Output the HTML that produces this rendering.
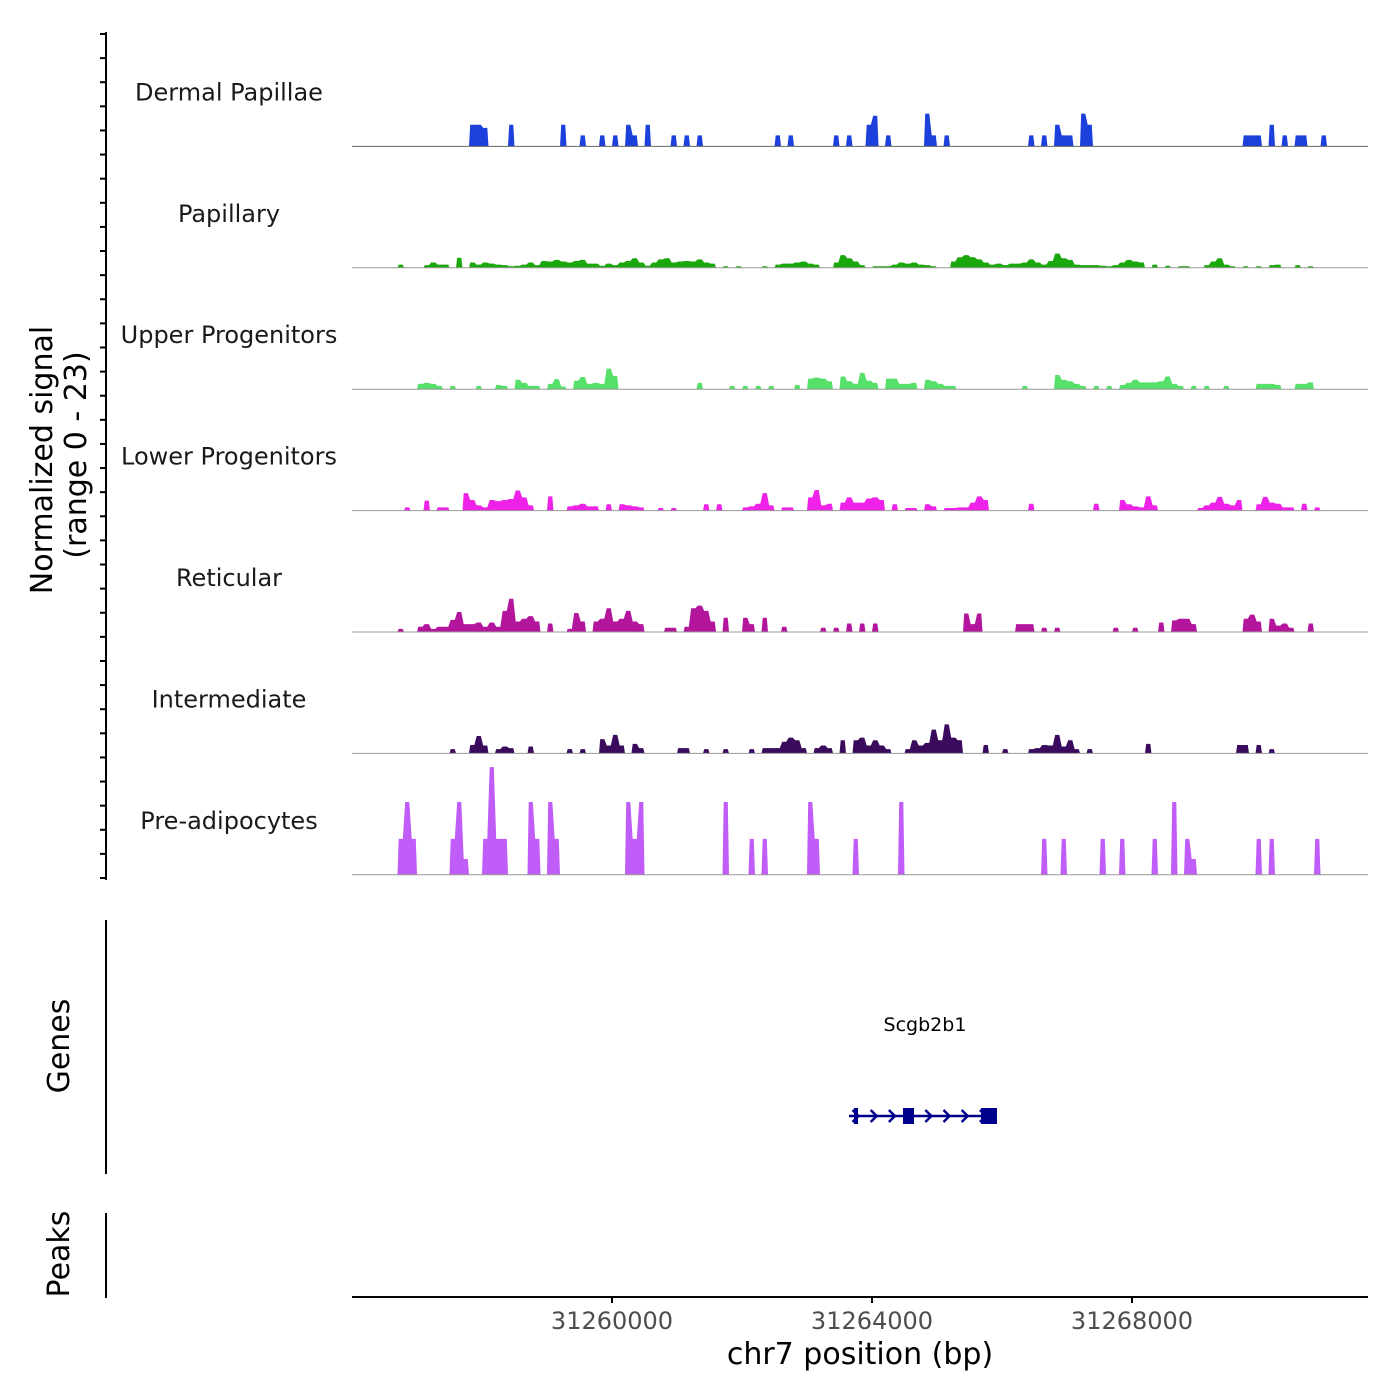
<!DOCTYPE html>
<html><head><meta charset="utf-8"><style>
body{margin:0;background:#fff}
svg{display:block;font-family:"DejaVu Sans","Liberation Sans",sans-serif}
</style></head><body>
<svg id="chart" width="1400" height="1400" viewBox="0 0 1400 1400" xmlns="http://www.w3.org/2000/svg">
<rect width="1400" height="1400" fill="#fff"/>
<g id="tracks"></g>
<g id="axes"></g>
</svg>
<script>
const startBp = 31256000, binSize = 100;
const xTicks = [31260000, 31264000, 31268000];
const trackNames = ["Dermal Papillae","Papillary","Upper Progenitors","Lower Progenitors","Reticular","Intermediate","Pre-adipocytes"];
const trackColors = ["#1b40dc","#1aa80c","#56e06a","#ee22e8","#b3169c","#3a0b5c","#c05cf8"];
// sparse binned signal: bin index (100bp bins from startBp) and values (normalized, 0-23)
const dpBins = [18,19,20,24,32,35,38,40,42,43,45,49,51,53,65,67,74,76,79,80,82,88,89,91,104,106,108,109,110,112,113,137,138,139,141,143,145,146,149];
const dpVals = [4.1,4.1,3.5,4.1,4.1,2.1,2.1,2.1,4.1,2.1,4.1,2.1,2.1,2.1,2.1,2.1,2.1,2.1,4.1,5.8,2.1,6.2,2.1,2.1,2.1,2.1,4.1,2.1,2.1,6.2,4.1,2.1,2.1,2.1,4.1,2.1,2.1,2.1,2.1];
const papBins = [7,11,12,13,14,16,18,19,20,21,22,23,24,25,26,27,28,29,30,31,32,33,34,35,36,37,38,39,40,41,42,43,44,45,46,47,48,49,50,51,52,53,54,55,57,59,63,65,66,67,68,69,70,71,74,75,76,77,78,80,81,82,83,84,85,86,87,88,89,92,93,94,95,96,97,98,99,100,101,102,103,104,105,106,107,108,109,110,111,112,113,114,115,116,117,118,119,120,121,123,125,127,128,131,132,133,134,135,137,139,141,142,145,147];
const papVals = [0.6,0.5,1.0,0.6,0.6,1.9,1.0,0.6,1.0,0.8,0.6,0.5,0.3,0.4,0.6,1.0,0.5,1.3,1.2,1.5,1.2,1.0,1.3,1.5,0.8,0.8,0.4,0.8,0.5,1.0,1.3,1.8,1.0,0.4,1.0,1.6,1.8,1.0,1.2,1.3,1.2,1.6,1.0,0.8,0.3,0.3,0.3,0.6,0.8,0.8,1.0,1.2,0.8,0.6,1.0,2.4,1.8,1.2,0.5,0.3,0.3,0.3,0.6,1.0,0.8,1.0,0.6,0.5,0.3,1.2,2.0,2.4,2.0,1.6,1.0,0.6,0.8,0.5,0.8,0.8,1.0,1.6,1.0,0.6,1.3,2.7,1.8,1.5,0.6,0.5,0.5,0.5,0.4,0.3,0.5,1.0,1.5,1.2,1.0,0.6,0.4,0.3,0.3,0.5,1.2,1.8,0.6,0.3,0.3,0.3,0.5,0.6,0.5,0.3];
const upBins = [10,11,12,13,15,19,22,23,25,26,27,28,30,31,32,34,35,36,37,38,39,40,53,58,60,62,64,68,70,71,72,73,75,76,77,78,79,80,82,83,84,85,86,88,89,90,91,92,103,108,109,110,111,112,114,116,118,119,120,121,122,123,124,125,126,127,129,131,134,139,140,141,142,145,146,147];
const upVals = [1.0,1.2,1.0,0.6,0.6,0.6,0.8,0.6,1.8,1.2,0.6,0.6,1.0,1.9,0.5,1.6,2.3,1.0,1.2,1.0,3.9,2.5,1.2,0.6,0.6,0.6,0.6,0.8,2.0,2.2,2.0,1.5,2.4,1.5,1.0,3.1,1.6,1.2,2.0,2.0,1.0,1.0,1.2,1.8,1.5,1.0,0.6,0.6,0.6,2.7,1.8,1.5,1.0,0.6,0.6,0.6,0.8,1.2,1.8,1.3,1.3,1.3,1.5,2.4,1.0,0.6,0.6,0.6,0.6,1.0,1.0,1.0,0.8,1.0,1.0,1.3];
const lowBins = [8,11,13,14,17,18,19,20,21,22,23,24,25,26,27,30,33,34,35,36,37,39,41,42,43,44,47,49,54,56,60,61,62,63,64,66,67,70,71,72,73,75,76,77,78,79,80,81,83,85,86,88,89,91,92,93,94,95,96,97,104,114,118,119,120,121,122,123,130,131,132,133,134,135,136,139,140,141,142,143,144,146,148];
const lowVals = [0.6,1.9,0.6,0.6,3.3,2.0,1.0,0.6,2.0,1.8,2.0,2.2,3.8,2.5,1.0,2.7,0.8,1.0,1.3,0.8,0.8,1.2,1.2,1.0,0.8,0.6,0.5,0.5,1.2,1.2,0.6,0.8,1.3,3.3,1.0,0.6,0.6,2.5,3.9,1.0,1.3,1.5,2.5,1.5,1.5,2.3,2.5,2.0,1.2,0.5,0.5,1.2,0.8,0.5,0.5,0.6,0.6,1.5,2.7,2.0,1.3,1.3,2.0,1.2,0.8,0.6,2.7,1.0,0.5,1.0,1.5,2.6,1.3,1.0,2.0,1.2,2.6,1.5,1.3,0.6,0.6,1.3,0.6];
const retBins = [7,10,11,12,13,14,15,16,17,18,19,20,21,22,23,24,25,26,27,28,30,33,34,35,37,38,39,40,41,42,43,44,48,49,51,52,53,54,55,57,60,61,63,66,72,74,76,78,80,94,95,96,102,103,104,106,108,117,120,124,126,127,128,129,137,138,139,141,142,143,144,147];
const retVals = [0.6,1.0,1.5,0.6,1.0,1.0,2.3,3.8,1.5,1.5,1.8,1.0,1.8,1.0,4.0,6.3,2.0,2.5,3.0,2.0,1.6,0.6,3.6,2.0,2.0,2.5,4.5,2.0,2.5,4.0,2.0,1.5,0.8,0.8,1.0,4.5,5.0,4.0,2.0,2.7,2.7,1.5,2.7,1.0,0.8,0.8,1.6,1.6,1.6,3.5,1.5,3.5,1.5,1.5,1.5,0.8,0.8,0.8,0.8,1.8,2.2,2.5,2.5,1.5,2.5,3.3,2.0,2.5,1.2,1.6,0.8,1.6];
const intBins = [15,18,19,20,22,23,24,27,33,35,38,39,40,41,43,44,50,51,54,57,61,63,64,65,66,67,68,69,71,72,73,75,77,78,79,80,81,82,85,86,87,88,89,90,91,92,93,97,100,104,105,106,107,108,109,110,111,113,122,136,137,139,141];
const intVals = [0.8,1.6,3.3,1.5,0.8,1.3,1.0,1.3,0.8,0.8,2.7,1.5,3.5,1.5,1.8,1.0,1.0,1.0,0.8,0.8,0.8,1.0,1.0,1.0,2.2,3.0,2.5,1.0,1.0,1.5,1.0,2.5,2.5,3.0,1.5,2.5,1.5,0.8,0.8,2.5,1.5,2.0,4.5,2.5,5.5,3.0,2.5,1.6,0.8,0.8,1.0,1.6,1.5,3.5,1.3,2.5,0.8,0.8,1.8,1.6,1.6,1.6,0.8];
const preBins = [7,8,9,15,16,17,20,21,22,23,27,28,30,31,42,43,44,57,61,63,70,71,77,84,106,109,115,118,123,126,128,129,139,141,148];
const preVals = [6.8,13.8,6.8,6.8,13.8,3.0,6.8,20.4,6.8,6.8,13.8,6.8,13.8,6.8,13.8,6.8,13.8,13.8,6.8,6.8,13.8,6.8,6.8,13.8,6.8,6.8,6.8,6.8,6.8,13.8,6.8,3.0,6.8,6.8,6.8];
const trackBins = [dpBins,papBins,upBins,lowBins,retBins,intBins,preBins];
const trackVals = [dpVals,papVals,upVals,lowVals,retVals,intVals,preVals];
// gene model
const geneName = "Scgb2b1";
const geneStart = 31263646, geneEnd = 31265923;
const exonStarts = [31263723, 31264477, 31265677];
const exonEnds = [31263785, 31264646, 31265923];

const NS = "http://www.w3.org/2000/svg";
const X0 = 352, X1 = 1368, pxPerBp = 0.065;
const xScale = bp => X0 + (bp - startBp) * pxPerBp;
const trackTop = 25, trackH = 121.4, yMax = 23;
const baseY = i => trackTop + trackH * (i + 1);
const yScale = (i, v) => baseY(i) - v / yMax * trackH;
function mk(tag, attrs, parent){const e=document.createElementNS(NS,tag);for(const k in attrs)e.setAttribute(k,attrs[k]);parent.appendChild(e);return e;}
const tg = document.getElementById('tracks');
const ax = document.getElementById('axes');

trackNames.forEach((name, i) => {
  const g = mk('g', {}, tg);
  
  
  const lab = mk('text', {x:229, y:baseY(i)-46, 'text-anchor':'middle', 'font-size':24, fill:'#1a1a1a'}, g);
  lab.textContent = name;
  
  
  const bins = trackBins[i], vals = trackVals[i];
  const y0 = baseY(i);
  let d = '', prev = -10;
  bins.forEach((b, j) => {
    const xa = xScale(startBp + b * binSize), xb = xScale(startBp + (b + 1) * binSize);
    const yt = yScale(i, vals[j]).toFixed(2);
    if (b !== prev + 1) {
      if (d) d += 'Z';
      d += `M${xa.toFixed(2)},${y0}`;
    }
    d += `L${(xa+1.2).toFixed(2)},${yt}L${(xb-1.2).toFixed(2)},${yt}`;
    const nextB = j + 1 < bins.length ? bins[j+1] : -99;
    if (nextB !== b + 1) d += `L${xb.toFixed(2)},${y0}`;
    prev = b;
  });
  if (d) d += 'Z';
  const p = mk('path', {d:d, fill:trackColors[i]}, g);
  
  
  const bl = mk('line', {x1:X0, x2:X1, y1:y0, y2:y0, stroke: i===0?'#666':'#999', 'stroke-width':1}, g);
  
  
});

// left signal axis
const ya = mk('line', {x1:106, x2:106, y1:32, y2:880, stroke:'#000', 'stroke-width':2}, ax);


for (let k = 0; k <= 35; k++) {
  const y = 34 + k * (844 / 35);
  const t = mk('line', {x1:100, x2:106, y1:y, y2:y, stroke:'#000', 'stroke-width':2}, ax);
  
  
}
const yt1 = mk('text', {x:0, y:0, transform:'translate(52,460) rotate(-90)', 'text-anchor':'middle', 'font-size':30, fill:'#000'}, ax);
yt1.textContent = 'Normalized signal';


const yt2 = mk('text', {x:0, y:0, transform:'translate(86,455) rotate(-90)', 'text-anchor':'middle', 'font-size':30, fill:'#000'}, ax);
yt2.textContent = '(range 0 - 23)';



// genes panel
const gl = mk('line', {x1:106, x2:106, y1:920, y2:1174, stroke:'#000', 'stroke-width':2}, ax);


const gt = mk('text', {x:0, y:0, transform:'translate(69,1046) rotate(-90)', 'text-anchor':'middle', 'font-size':30, fill:'#000'}, ax);
gt.textContent = 'Genes';


const gg = mk('g', {}, ax);


const gy = 1116;
mk('line', {x1:xScale(geneStart), x2:xScale(geneEnd), y1:gy, y2:gy, stroke:'#00008b', 'stroke-width':2.5}, gg);
exonStarts.forEach((s, j) => {
  const xa = xScale(s), xb = xScale(exonEnds[j]);
  const r = mk('rect', {x:xa, y:gy-8, width:Math.max(xb-xa,3), height:16, fill:'#00008b'}, gg);
  
  
});
for (let bp = geneStart + 100; bp < geneEnd - 200; bp += 280) {
  const x = xScale(bp);
  mk('path', {d:`M${x-3},${gy-6}L${x+3},${gy}L${x-3},${gy+6}`, fill:'none', stroke:'#00008b', 'stroke-width':2.5}, gg);
}
const gn = mk('text', {x:(xScale(geneStart)+xScale(geneEnd))/2+2, y:1031, 'text-anchor':'middle', 'font-size':19, fill:'#000'}, gg);
gn.textContent = geneName;



// peaks panel
const pl = mk('line', {x1:106, x2:106, y1:1213, y2:1298, stroke:'#000', 'stroke-width':2}, ax);


const pt = mk('text', {x:0, y:0, transform:'translate(69,1254) rotate(-90)', 'text-anchor':'middle', 'font-size':30, fill:'#000'}, ax);
pt.textContent = 'Peaks';



// x axis
const xa = mk('line', {x1:X0, x2:X1, y1:1297, y2:1297, stroke:'#000', 'stroke-width':2}, ax);


xTicks.forEach(v => {
  const x = xScale(v);
  const t = mk('line', {x1:x, x2:x, y1:1297, y2:1303, stroke:'#000', 'stroke-width':2}, ax);
  
  
  const l = mk('text', {x:x, y:1329, 'text-anchor':'middle', 'font-size':24, fill:'#4d4d4d'}, ax);
  l.textContent = String(v);
  
  
});
const xt = mk('text', {x:860, y:1364, 'text-anchor':'middle', 'font-size':30, fill:'#000'}, ax);
xt.textContent = 'chr7 position (bp)';


</script>
</body></html>
